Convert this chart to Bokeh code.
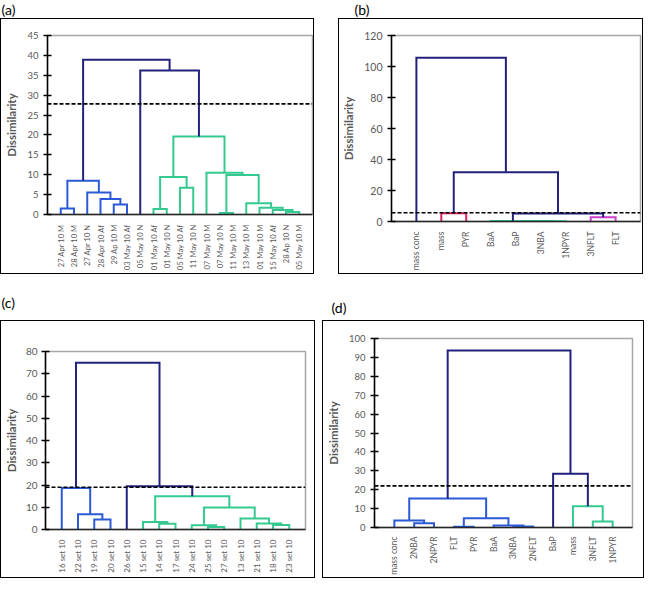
import math
from bokeh.plotting import figure
from bokeh.models import Range1d, FixedTicker, Span, Spacer
from bokeh.core.properties import value
from bokeh.layouts import row, column
from bokeh.embed import file_html
from bokeh.resources import INLINE

# ---------------- data ----------------
# merges: node ids 0..n-1 are leaves, each merge k creates node n+k
labels_a = ["27 Apr 10 M", "28 Apr 10 M", "27 Apr 10 N", "28 Apr 10 Af", "29 Ap 10 M",
            "03 May 10 Af", "05 May 10 N", "01 May 10 Af", "01 May 10 N", "05 May 10 Af",
            "11 May 10 N", "07 May 10 M", "07 May 10 N", "11 May 10 M", "13 May 10 M",
            "01 May 10 M", "15 May 10 Af", "28 Ap 10 N", "05 May 10 M"]
left_a = [0, 4, 3, 2, 19, 7, 9, 24, 12, 17, 16, 15, 14, 27, 11, 26, 6, 23]
right_a = [1, 5, 20, 21, 22, 8, 10, 25, 13, 18, 28, 29, 30, 31, 32, 33, 34, 35]
height_a = [1.5, 2.5, 3.9, 5.5, 8.5, 1.4, 6.7, 9.4, 0.4, 0.6, 1.1, 1.7, 2.8, 9.9, 10.5, 19.6, 36.2, 38.9]
cluster_a = ["blue"] * 5 + ["green"] * 11 + ["navy"] * 2
cut_a = 27.8
ymax_a, ystep_a = 45, 5

labels_b = ["mass conc", "mass", "PYR", "BaA", "BaP", "3NBA", "1NPYR", "3NFLT", "FLT"]
left_b = [5, 4, 3, 1, 7, 11, 12, 0]
right_b = [6, 9, 10, 2, 8, 13, 14, 15]
height_b = [0.2, 0.3, 0.4, 5.3, 2.7, 5.1, 31.7, 105.6]
cluster_b = ["green", "green", "green", "red", "magenta", "navy", "navy", "navy"]
cut_b = 5.6
ymax_b, ystep_b = 120, 20

labels_c = ["16 set 10", "22 set 10", "19 set 10", "20 set 10", "26 set 10", "15 set 10",
            "14 set 10", "17 set 10", "24 set 10", "25 set 10", "27 set 10", "13 set 10",
            "21 set 10", "18 set 10", "23 set 10"]
left_c = [2, 1, 0, 6, 5, 9, 8, 13, 12, 11, 21, 19, 4, 17]
right_c = [3, 15, 16, 7, 18, 10, 20, 14, 22, 23, 24, 25, 26, 27]
height_c = [4.5, 6.9, 18.7, 2.6, 3.4, 1.1, 1.9, 2.0, 2.7, 5.0, 9.9, 14.9, 19.4, 75.0]
cluster_c = ["blue"] * 3 + ["green"] * 9 + ["navy"] * 2
cut_c = 19.0
ymax_c, ystep_c = 80, 10

labels_d = ["mass conc", "2NBA", "2NPYR", "FLT", "PYR", "BaA", "3NBA", "2NFLT",
            "BaP", "mass", "3NFLT", "1NPYR"]
left_d = [1, 0, 3, 6, 5, 14, 13, 10, 9, 8, 18]
right_d = [2, 12, 4, 7, 15, 16, 17, 11, 19, 20, 21]
height_d = [2.2, 3.7, 0.4, 0.5, 1.0, 4.9, 15.3, 3.2, 11.3, 28.5, 93.6]
cluster_d = ["blue"] * 7 + ["green"] * 2 + ["navy"] * 2
cut_d = 22.0
ymax_d, ystep_d = 100, 10

panel_tags = ["(a)", "(b)", "(c)", "(d)"]

palette = {"blue": "#2C5AD6", "green": "#34C98E", "navy": "#22227E",
           "red": "#E0245E", "magenta": "#CC3FCC"}

FONT = "Lato"
GRAY = "#595959"


def dendro(n, left, right, height, cluster):
    xpos = {i: i + 1 for i in range(n)}
    ypos = {i: 0.0 for i in range(n)}
    xs, ys, cs = [], [], []
    for k, (a, b, h, c) in enumerate(zip(left, right, height, cluster)):
        xa, xb = xpos[a], xpos[b]
        xs.append([xa, xa, xb, xb])
        ys.append([ypos[a], h, h, ypos[b]])
        cs.append(palette[c])
        xpos[n + k] = (xa + xb) / 2
        ypos[n + k] = h
    return xs, ys, cs


def panel(labels, left, right, height, cluster, cut, ymax, ystep,
          W, H, frame, xfs, yfs, ystand=5, astand=6, xstand=4):
    n = len(labels)
    fx0, fy0, fx1, fy1 = frame
    p = figure(width=W, height=H, x_range=Range1d(0, n + 1), y_range=Range1d(0, ymax),
               output_backend="svg", toolbar_location=None,
               min_border_left=fx0, min_border_right=W - fx1,
               min_border_top=fy0, min_border_bottom=H - fy1)
    p.grid.visible = False
    p.outline_line_color = "#A6A6A6"
    p.outline_line_width = 1.5
    p.background_fill_color = "white"
    p.border_fill_color = "white"

    xs, ys, cs = dendro(n, left, right, height, cluster)
    p.multi_line(xs, ys, line_color=cs, line_width=2, line_join="miter")
    p.add_layout(Span(location=cut, dimension="width", line_color="black",
                      line_width=1.6, line_dash="4 2"))

    xa = p.xaxis[0]
    xa.ticker = FixedTicker(ticks=list(range(1, n + 1)))
    xa.major_label_overrides = {i + 1: lab for i, lab in enumerate(labels)}
    xa.major_label_orientation = math.pi / 2
    xa.major_tick_line_color = None
    xa.minor_tick_line_color = None
    xa.axis_line_color = "#262626"
    xa.axis_line_width = 1.5
    xa.major_label_standoff = xstand
    xa.major_label_text_font = FONT
    xa.major_label_text_font_size = xfs
    xa.major_label_text_color = GRAY

    ya = p.yaxis[0]
    ya.ticker = FixedTicker(ticks=list(range(0, ymax + 1, ystep)))
    ya.minor_tick_line_color = None
    ya.major_tick_in = 4
    ya.major_tick_out = 4
    ya.major_tick_line_color = "black"
    ya.major_tick_line_width = 1.5
    ya.axis_line_color = "black"
    ya.axis_line_width = 1.5
    ya.major_label_standoff = ystand
    ya.major_label_text_font = FONT
    ya.major_label_text_font_size = yfs
    ya.major_label_text_color = GRAY
    ya.axis_label = "Dissimilarity"
    ya.axis_label_text_font = FONT
    ya.axis_label_text_font_style = "bold"
    ya.axis_label_text_font_size = "11.5px"
    ya.axis_label_text_color = GRAY
    ya.axis_label_standoff = astand
    return column(p, styles={"border": "1px solid black", "background": "white"})


def title_strip(W, H, tags, xs, ys):
    t = figure(width=W, height=H, x_range=Range1d(0, W), y_range=Range1d(H, 0),
               x_axis_type=None, y_axis_type=None, output_backend="svg",
               toolbar_location=None, min_border=0)
    t.grid.visible = False
    t.outline_line_color = None
    t.text(x=xs, y=ys, text=tags, text_font=value(FONT), text_font_size=value("14px"),
           text_color="black", text_baseline="top", text_align="left")
    return t


pa = panel(labels_a, left_a, right_a, height_a, cluster_a, cut_a, ymax_a, ystep_a,
           312, 254, (46, 16, 311, 197), "7.6px", "9.5px")
pb = panel(labels_b, left_b, right_b, height_b, cluster_b, cut_b, ymax_b, ystep_b,
           303, 254, (51, 16, 301, 204), "8.6px", "10.5px")
pc = panel(labels_c, left_c, right_c, height_c, cluster_c, cut_c, ymax_c, ystep_c,
           313, 256, (40, 30, 304, 208), "8px", "10px", ystand=4, astand=5)
pd = panel(labels_d, left_d, right_d, height_d, cluster_d, cut_d, ymax_d, ystep_d,
           320, 256, (45, 17, 309, 211), "8.5px", "9.5px", xstand=3)

t1 = title_strip(644, 18, panel_tags[:2], [1, 354], [0, 0])
t2 = title_strip(644, 46, panel_tags[2:], [1, 331], [19, 24])

layout = column(t1, row(pa, Spacer(width=24), pb), t2, row(pc, Spacer(width=7), pd))
open("out.html", "w").write(file_html(layout, INLINE))
